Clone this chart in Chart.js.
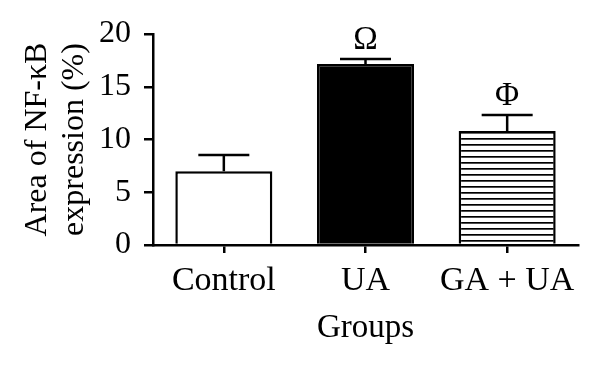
<!DOCTYPE html>
<html>
<head>
<meta charset="utf-8">
<script src="https://cdn.jsdelivr.net/npm/chart.js@4.4.1/dist/chart.umd.min.js"></script>
<style>
  html, body { margin: 0; padding: 0; background: #fff; }
  #wrap { width: 600px; height: 366px; }
</style>
</head>
<body>
<div id="wrap"><canvas id="grafico" width="600" height="366"></canvas></div>
<script>
// datos
const grupos = ['Control', 'UA', 'GA + UA'];
const medias = [7.0, 17.15, 10.8];
const errores = [1.52, 0.47, 1.52];
const marcas = ['', 'Ω', 'Φ'];
const yMin = 0, yMax = 20, yPaso = 5;

const FUENTE = '"Liberation Serif", "Times New Roman", serif';
const NEGRO = '#000';

// patron de rayas horizontales para GA + UA
function rayas() {
  const c = document.createElement('canvas');
  c.width = 8; c.height = 6;
  const g = c.getContext('2d');
  g.fillStyle = '#fff'; g.fillRect(0, 0, 8, 6);
  g.fillStyle = NEGRO; g.fillRect(0, 0, 8, 1.7);
  return g.createPattern(c, 'repeat');
}

// barras de error (solo hacia arriba) y simbolos de significancia
const barrasError = {
  id: 'barrasError',
  afterDatasetsDraw(chart) {
    const ctx = chart.ctx;
    const y = chart.scales.y;
    const meta = chart.getDatasetMeta(0);
    ctx.save();
    ctx.strokeStyle = NEGRO;
    ctx.lineWidth = 2.5;
    meta.data.forEach((bar, i) => {
      const x = bar.x;
      const y0 = y.getPixelForValue(medias[i]);
      const y1 = y.getPixelForValue(medias[i] + errores[i]);
      ctx.beginPath();
      ctx.moveTo(x, y0); ctx.lineTo(x, y1);
      ctx.moveTo(x - 25.5, y1); ctx.lineTo(x + 25.5, y1);
      ctx.stroke();
      if (marcas[i]) {
        ctx.fillStyle = NEGRO;
        ctx.font = '33px ' + FUENTE;
        ctx.textAlign = 'center';
        ctx.textBaseline = 'alphabetic';
        ctx.fillText(marcas[i], x, y1 - 10);
      }
    });
    ctx.restore();
  }
};

function init() {
  const ctx = document.getElementById('grafico').getContext('2d');
  new Chart(ctx, {
    type: 'bar',
    data: {
      labels: grupos,
      datasets: [{
        data: medias,
        backgroundColor: ['#fff', NEGRO, rayas()],
        borderColor: NEGRO,
        borderWidth: 2.5,
        borderSkipped: 'start',
        categoryPercentage: 1,
        barPercentage: 0.685
      }]
    },
    options: {
      responsive: false,
      animation: false,
      devicePixelRatio: 1,
      layout: { padding: { top: 34, right: 22, left: 0, bottom: 0 } },
      plugins: { legend: { display: false }, tooltip: { enabled: false } },
      scales: {
        x: {
          offset: true,
          grid: { offset: false, drawOnChartArea: false, drawTicks: true, tickLength: 8, color: NEGRO, lineWidth: 2.5 },
          border: { color: NEGRO, width: 2.5 },
          ticks: { color: NEGRO, padding: 8, font: { family: FUENTE, size: 34, lineHeight: 1.2 } },
          title: { display: true, text: 'Groups', color: NEGRO, padding: { top: 0, bottom: 18 }, font: { family: FUENTE, size: 33, lineHeight: 1.2 } },
          afterFit: (s) => { s.height = 121; }
        },
        y: {
          min: yMin, max: yMax,
          grid: { drawOnChartArea: false, drawTicks: true, tickLength: 9, color: NEGRO, lineWidth: 2.5 },
          border: { color: NEGRO, width: 2.5 },
          ticks: { stepSize: yPaso, color: NEGRO, padding: 13, font: { family: FUENTE, size: 32 } },
          title: { display: true, text: ['Area of NF-κB', 'expression (%)'], color: NEGRO, padding: { top: 19, bottom: 0 }, font: { family: FUENTE, size: 32, lineHeight: 1.15 } },
          afterFit: (s) => { s.width = 153; }
        }
      }
    },
    plugins: [barrasError]
  });
}

if (document.readyState === 'loading') document.addEventListener('DOMContentLoaded', init);
else init();
</script>
</body>
</html>
